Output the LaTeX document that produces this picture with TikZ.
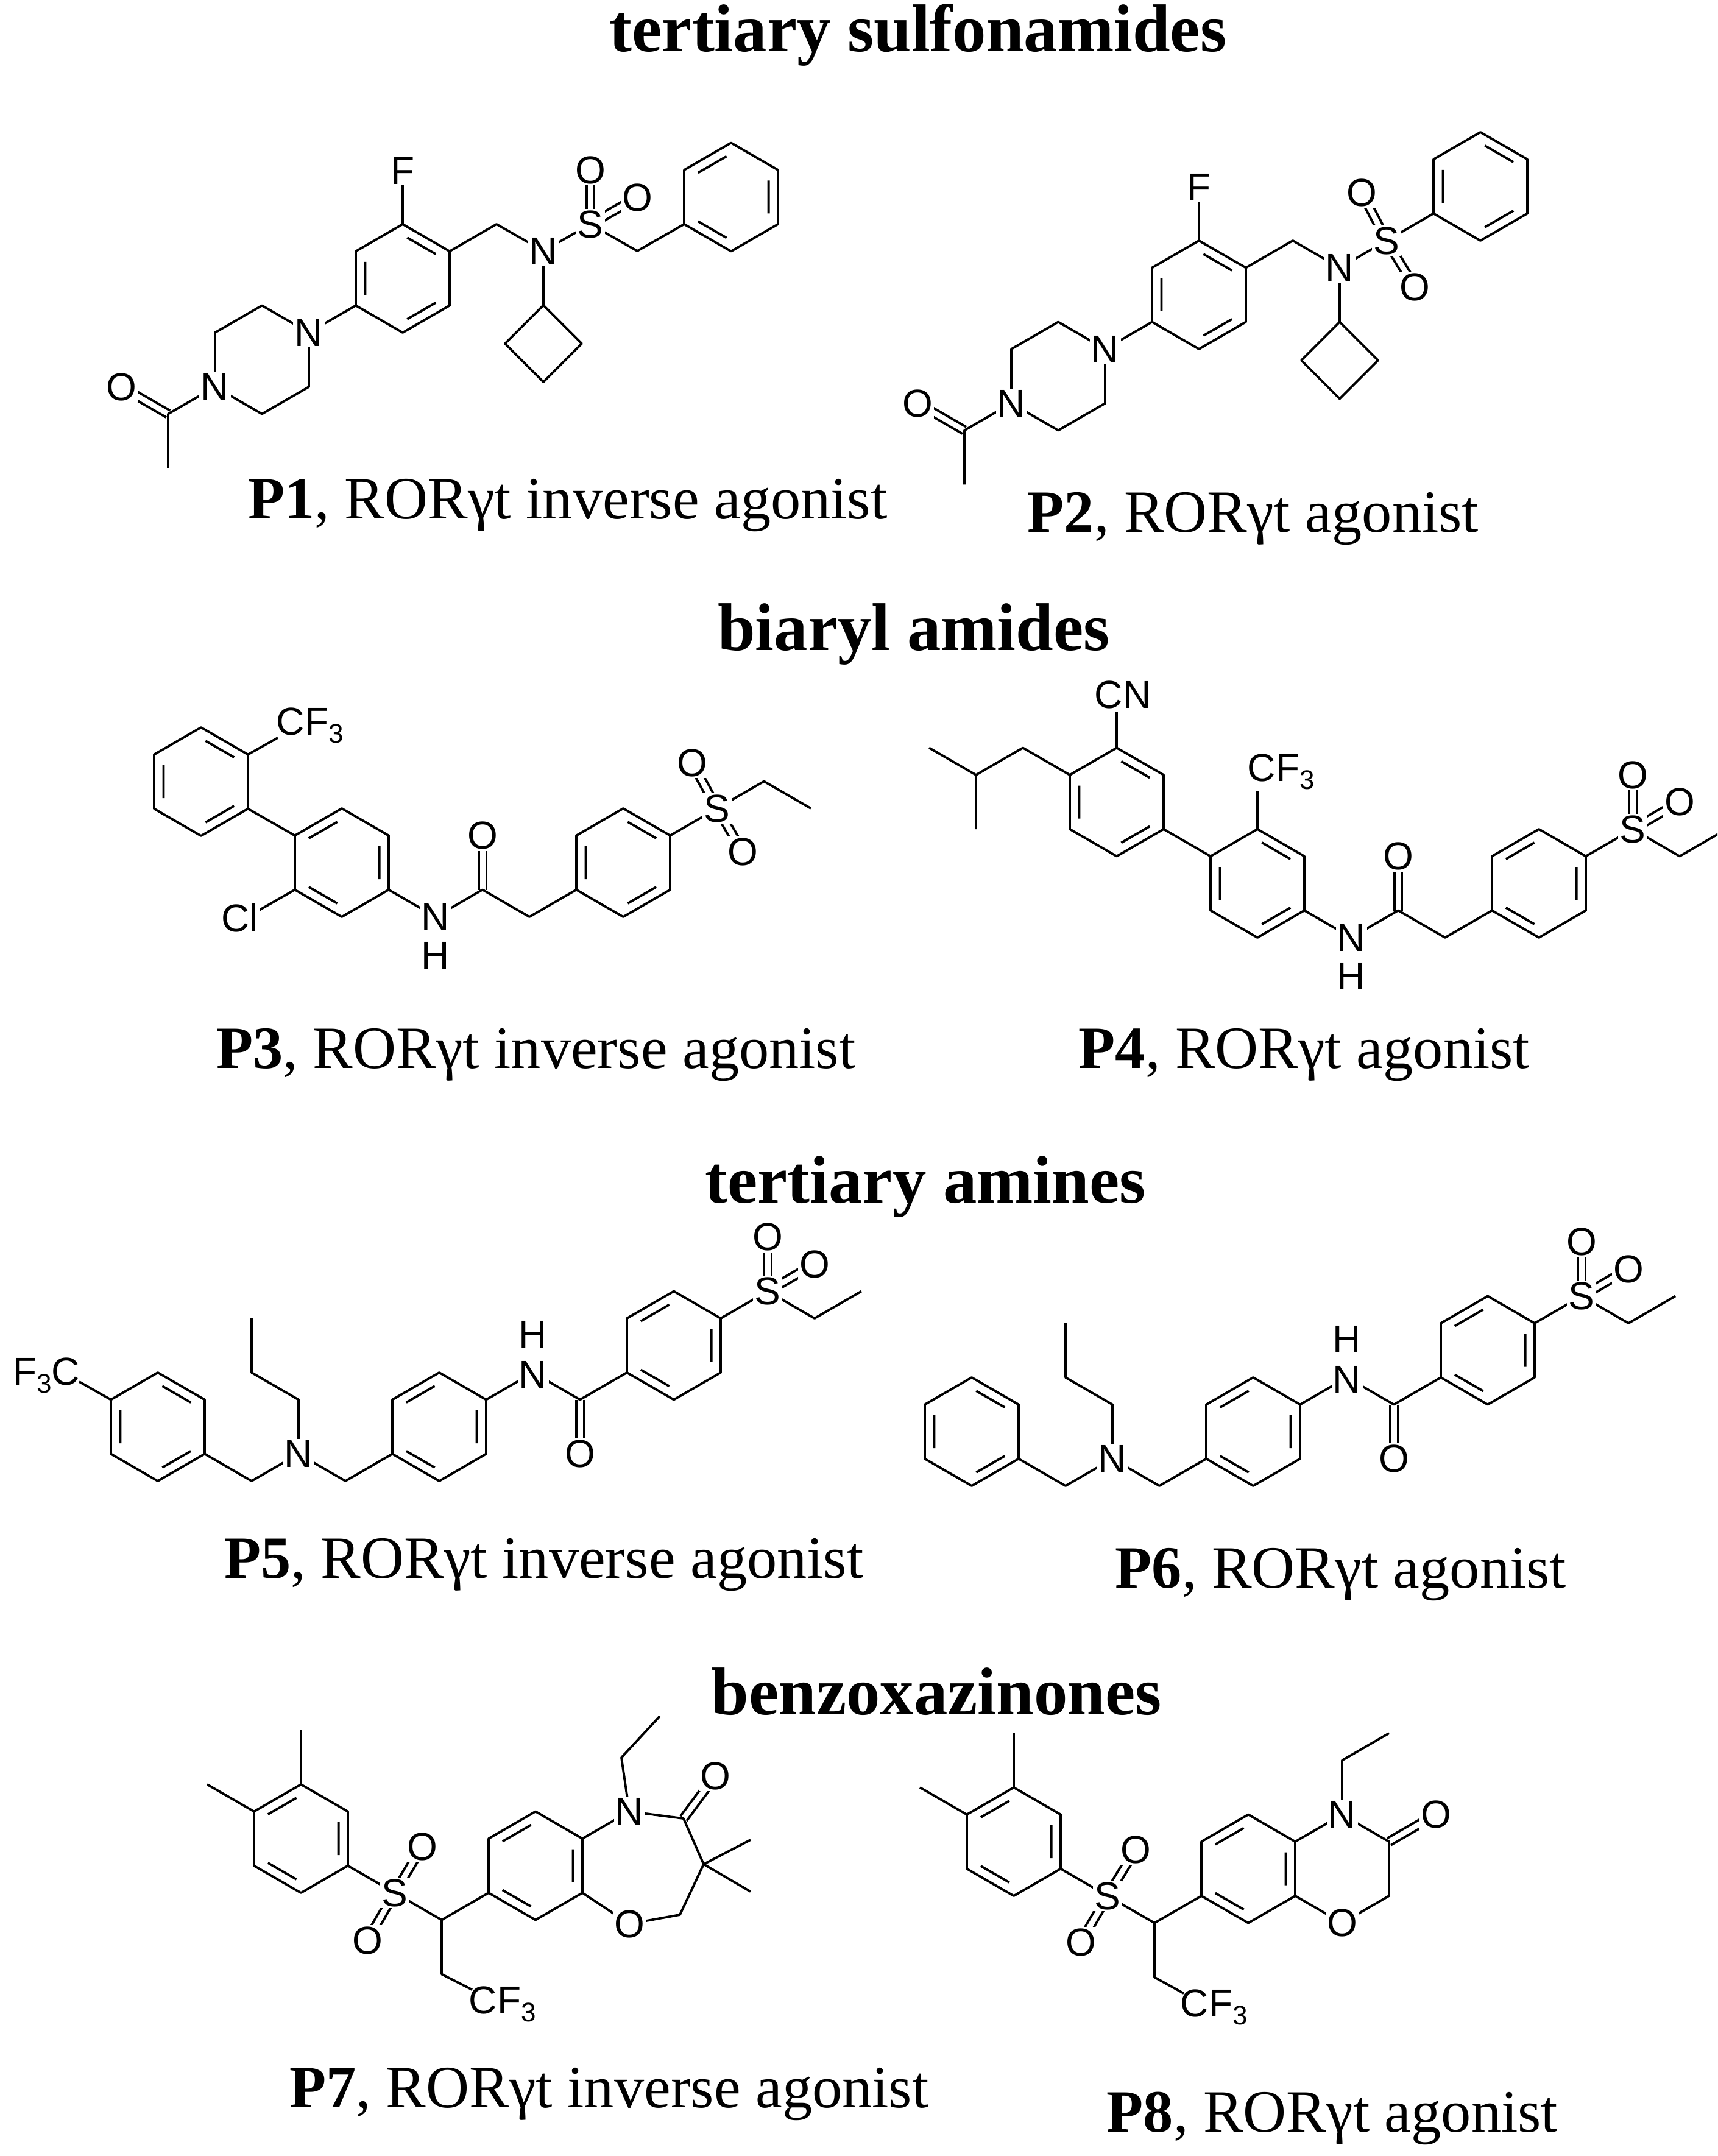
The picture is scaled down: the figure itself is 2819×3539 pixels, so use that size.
\documentclass[tikz,border=0pt]{standalone}
\usepackage{fontspec}
\setmainfont{Liberation Serif}
\setsansfont{Liberation Sans}
\usetikzlibrary{calc}
\newcommand\subs[1]{\raisebox{-0.4ex}{\fontsize{11}{11}\selectfont #1}}
\newcommand\ringA[2]{\begin{scope}[shift={(#1,#2)}]
 \draw (0,-89)--(77,-44.5)--(77,44.5)--(0,89)--(-77,44.5)--(-77,-44.5)--cycle;
 \draw (7.4,-66.9)--(54.2,-39.9) (54.2,39.9)--(7.4,66.9) (-61.6,27)--(-61.6,-27);\end{scope}}
\newcommand\ringB[2]{\begin{scope}[shift={(#1,#2)}]
 \draw (0,-89)--(77,-44.5)--(77,44.5)--(0,89)--(-77,44.5)--(-77,-44.5)--cycle;
 \draw (-54.2,-39.9)--(-7.4,-66.9) (61.6,-27)--(61.6,27) (-7.4,66.9)--(-54.2,39.9);\end{scope}}
\newcommand\dbl[2]{\draw ($(#1)!1.6pt!90:(#2)$) -- ($(#2)!1.6pt!-90:(#1)$); \draw ($(#1)!1.6pt!-90:(#2)$) -- ($(#2)!1.6pt!90:(#1)$);}
\begin{document}
\begin{tikzpicture}[x=0.25pt,y=-0.25pt,line width=0.95pt,line join=round,
 atom/.style={fill=white,inner sep=0.6pt,font=\sffamily\fontsize{16}{16}\selectfont},
 atomw/.style={inner sep=0pt,font=\sffamily\fontsize{16}{16}\selectfont},
 captxt/.style={font=\fontsize{24.6}{28}\selectfont},
 ttl/.style={font=\bfseries\fontsize{27.7}{30}\selectfont}]
\useasboundingbox (0,0) rectangle (2819,3539);
\begin{scope}
\clip (0,0) rectangle (2819,3539);
% ---------- titles and captions
\node[ttl] (t1) at (1507,57) {tertiary sulfonamides};
\node[ttl] (t2) at (1500,1041) {biaryl amides};
\node[ttl] (t3) at (1519,1948) {tertiary amines};
\node[ttl] (t4) at (1537,2777) {benzoxazinones};
\node[captxt] (c1) at (932,830) {\textbf{P1}, RORγt inverse agonist};
\node[captxt] (c2) at (2057,852) {\textbf{P2}, RORγt agonist};
\node[captxt] (c3) at (880,1732) {\textbf{P3}, RORγt inverse agonist};
\node[captxt] (c4) at (2141,1732) {\textbf{P4}, RORγt agonist};
\node[captxt] (c5) at (893,2569) {\textbf{P5}, RORγt inverse agonist};
\node[captxt] (c6) at (2201,2585) {\textbf{P6}, RORγt agonist};
\node[captxt] (c7) at (1000,3437) {\textbf{P7}, RORγt inverse agonist};
\node[captxt] (c8) at (2187,3477) {\textbf{P8}, RORγt agonist};
% ---------- P1
\ringA{661}{457}
\ringB{1200}{323.5}
\draw (661,368)--(661,285);
\draw (738,412.5)--(815,368)--(892,412)--(969,368)--(1046,412)--(1123,368);
\dbl{969,368}{969,279}
\dbl{969,368}{1046,324}
\draw (892,412)--(892,501);
\draw (892,501)--(829,564)--(892,627)--(955,564)--cycle;
\draw (584,501.5)--(507,546);
\draw (430,501.5)--(507,546)--(507,635)--(430,679.5)--(353,635)--(353,546)--cycle;
\draw (353,635)--(276,679.5)--(276,768.5);
\dbl{276,679.5}{199,635}
\node[atom] (p1f) at (661,280) {F};
\node[atom] (p1n) at (892,412) {N};
\node[atom] (p1s) at (969,368) {S};
\node[atom] (p1o1) at (969,279) {O};
\node[atom] (p1o2) at (1046,324) {O};
\node[atom] (p1n1) at (507,546) {N};
\node[atom] (p1n4) at (353,635) {N};
\node[atom] (p1o3) at (199,635) {O};
% ---------- P2
\ringA{1968}{484}
\ringA{2430}{306}
\draw (1968,395)--(1968,312);
\draw (2045,439.5)--(2122,395)--(2199,439.5)--(2276,395)--(2353,350.5);
\dbl{2276,395}{2235,316}
\dbl{2276,395}{2322,471}
\draw (2199,439.5)--(2199,528.5);
\draw (2199,528.5)--(2136,591.5)--(2199,654.5)--(2262,591.5)--cycle;
\draw (1891,528.5)--(1814,573);
\draw (1737,528.5)--(1814,573)--(1814,662)--(1737,706.5)--(1660,662)--(1660,573)--cycle;
\draw (1660,662)--(1583,706.5)--(1583,795.5);
\dbl{1583,706.5}{1506,662}
\node[atom] (p2f) at (1968,307) {F};
\node[atom] (p2n) at (2199,439.5) {N};
\node[atom] (p2s) at (2276,395) {S};
\node[atom] (p2o1) at (2235,316) {O};
\node[atom] (p2o2) at (2322,471) {O};
\node[atom] (p2n1) at (1814,573) {N};
\node[atom] (p2n4) at (1660,662) {N};
\node[atom] (p2o3) at (1506,662) {O};
% ---------- P3
\ringB{561}{1416}
\ringA{330}{1283}
\draw (484,1371.5)--(407,1327.5);
\draw (407,1238.5)--(456,1211);
\draw (484,1460.5)--(420,1497);
\draw (638,1460.5)--(715,1505)--(792,1460.5)--(869,1505)--(946,1460.5);
\dbl{792,1460.5}{792,1371.5}
\ringA{1023}{1416}
\draw (1100,1371.5)--(1177,1327)--(1254,1282.5)--(1331,1327);
\dbl{1177,1327}{1136,1252}
\dbl{1177,1327}{1219,1398}
\node[atomw,anchor=south west] (p3cf) at (452,1222) {CF\subs{3}};
\node[atom] (p3cl) at (394,1507) {Cl};
\node[atom] (p3n) at (715,1505) {N};
\node[atomw] (p3h) at (715,1568) {H};
\node[atom] (p3o) at (792,1371.5) {O};
\node[atom] (p3s) at (1177,1327) {S};
\node[atom] (p3o1) at (1136,1252) {O};
\node[atom] (p3o2) at (1219,1398) {O};
% ---------- P4
\ringA{2064}{1450}
\ringA{1833}{1316.5}
\draw (2064,1361)--(2064,1298);
\draw (1987,1405.5)--(1910,1361);
\draw (1833,1227.5)--(1833,1168);
\draw (1756,1272)--(1679,1227.5)--(1602,1272)--(1525,1227.5) (1602,1272)--(1602,1361);
\draw (2141,1494.5)--(2218,1539)--(2295,1494.5)--(2372,1539)--(2449,1494.5);
\dbl{2295,1494.5}{2295,1405.5}
\ringB{2526}{1450}
\draw (2603,1405.5)--(2680,1361)--(2757,1405.5)--(2834,1361);
\dbl{2680,1361}{2680,1272}
\dbl{2680,1361}{2757,1316.5}
\node[atomw,anchor=south west] (p4cf) at (2046,1298) {CF\subs{3}};
\node[atomw] (p4cn) at (1843,1140) {CN};
\node[atom] (p4n) at (2218,1539) {N};
\node[atomw] (p4h) at (2218,1602) {H};
\node[atom] (p4o) at (2295,1405.5) {O};
\node[atom] (p4s) at (2680,1361) {S};
\node[atom] (p4o1) at (2680,1272) {O};
\node[atom] (p4o2) at (2757,1316.5) {O};
% ---------- P5
\ringA{259}{2342}
\draw (182,2297.5)--(130,2268);
\draw (336,2386.5)--(413,2431)--(490,2386.5)--(567,2431)--(644,2386.5);
\draw (490,2386.5)--(490,2297.5)--(413,2253)--(413,2164);
\ringB{721}{2342}
\draw (798,2297.5)--(875,2253)--(952,2297.5)--(1029,2253);
\dbl{952,2297.5}{952,2386.5}
\ringB{1106}{2208.5}
\draw (1183,2164)--(1260,2119.5)--(1337,2164)--(1414,2119.5);
\dbl{1260,2119.5}{1260,2030.5}
\dbl{1260,2119.5}{1337,2075}
\node[atomw] (p5cf) at (76,2258) {F\subs{3}C};
\node[atom] (p5n) at (490,2386.5) {N};
\node[atom] (p5n2) at (875,2256) {N};
\node[atomw] (p5h) at (875,2190) {H};
\node[atom] (p5o) at (952,2386.5) {O};
\node[atom] (p5s) at (1260,2119.5) {S};
\node[atom] (p5o1) at (1260,2030.5) {O};
\node[atom] (p5o2) at (1337,2075) {O};
% ---------- P6
\ringA{1595}{2350}
\draw (1672,2394.5)--(1749,2439)--(1826,2394.5)--(1903,2439)--(1980,2394.5);
\draw (1826,2394.5)--(1826,2305.5)--(1749,2261)--(1749,2172);
\ringB{2057}{2350}
\draw (2134,2305.5)--(2211,2261)--(2288,2305.5)--(2365,2261);
\dbl{2288,2305.5}{2288,2394.5}
\ringB{2442}{2216.5}
\draw (2519,2172)--(2596,2127.5)--(2673,2172)--(2750,2127.5);
\dbl{2596,2127.5}{2596,2038.5}
\dbl{2596,2127.5}{2673,2083}
\node[atom] (p6n) at (1826,2394.5) {N};
\node[atom] (p6n2) at (2211,2264) {N};
\node[atomw] (p6h) at (2211,2198) {H};
\node[atom] (p6o) at (2288,2394.5) {O};
\node[atom] (p6s) at (2596,2127.5) {S};
\node[atom] (p6o1) at (2596,2038.5) {O};
\node[atom] (p6o2) at (2673,2083) {O};
% ---------- P7
\ringB{494}{3018}
\draw (494,2929)--(494,2840) (417,2973.5)--(340,2929);
\draw (571,3062.5)--(648,3107)--(725,3151.5)--(802,3107);
\dbl{648,3107}{693,3031}
\dbl{648,3107}{603,3185}
\draw (725,3151.5)--(725,3240.5)--(775,3266);
\ringB{879}{3062.5}
\draw (956,3018)--(1033,2973.5)--(1122,2985)--(1155,3060)--(1116,3143)--(1033,3158)--(956,3107);
\dbl{1122,2985}{1174,2915}
\draw (1232,3020)--(1155,3060)--(1232,3105);
\draw (1033,2973.5)--(1020,2885)--(1083,2817);
\node[atomw,anchor=west] (p7cf) at (768,3290) {CF\subs{3}};
\node[atom] (p7s) at (648,3107) {S};
\node[atom] (p7o1) at (693,3031) {O};
\node[atom] (p7o2) at (603,3185) {O};
\node[atom] (p7n) at (1033,2973.5) {N};
\node[atom] (p7o3) at (1174,2915) {O};
\node[atom] (p7o4) at (1033,3158) {O};
% ---------- P8
\ringB{1664}{3023}
\draw (1664,2934)--(1664,2845) (1587,2978.5)--(1510,2934);
\draw (1741,3067.5)--(1818,3112)--(1895,3156.5)--(1972,3112);
\dbl{1818,3112}{1864,3036}
\dbl{1818,3112}{1774,3188}
\draw (1895,3156.5)--(1895,3245.5)--(1943,3272);
\ringB{2049}{3067.5}
\draw (2126,3023)--(2203,2978.5)--(2280,3023)--(2280,3112)--(2203,3156.5)--(2126,3112);
\dbl{2280,3023}{2357,2978.5}
\draw (2203,2978.5)--(2203,2889.5)--(2280,2845);
\node[atomw,anchor=west] (p8cf) at (1936,3295) {CF\subs{3}};
\node[atom] (p8s) at (1818,3112) {S};
\node[atom] (p8o1) at (1864,3036) {O};
\node[atom] (p8o2) at (1774,3188) {O};
\node[atom] (p8n) at (2203,2978.5) {N};
\node[atom] (p8o3) at (2357,2978.5) {O};
\node[atom] (p8o4) at (2203,3156.5) {O};
\end{scope}
\end{tikzpicture}
\end{document}
